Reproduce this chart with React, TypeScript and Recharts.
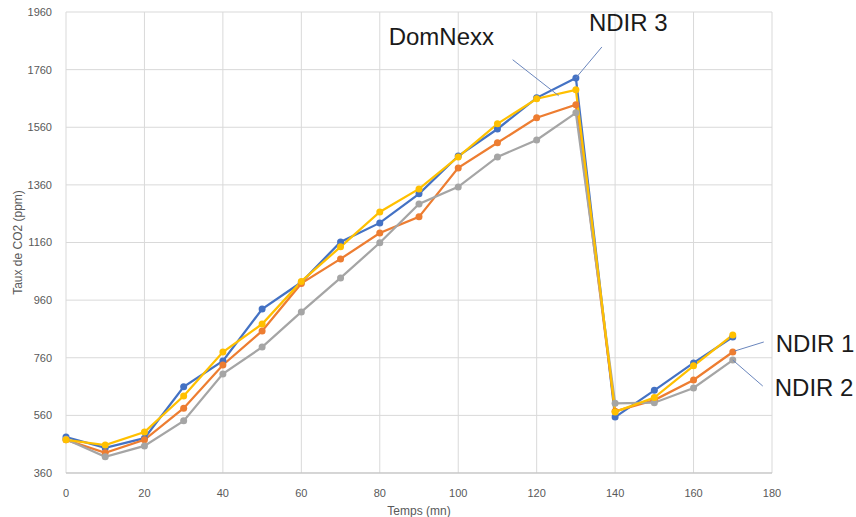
import { LineChart, Line, XAxis, YAxis, CartesianGrid, LabelList } from "recharts"

const minutes = [0, 10, 20, 30, 40, 50, 60, 70, 80, 90, 100, 110, 120, 130, 140, 150, 160, 170]
const ndir3 = [485, 447, 481, 659, 749, 929, 1022, 1162, 1228, 1329, 1460, 1554, 1662, 1731, 554, 647, 742, 832]
const ndir1 = [475, 430, 475, 585, 735, 853, 1018, 1103, 1193, 1249, 1419, 1506, 1593, 1638, 574, 613, 683, 780]
const ndir2 = [477, 416, 454, 541, 704, 797, 919, 1037, 1159, 1294, 1353, 1457, 1516, 1610, 602, 604, 655, 752]
const domNexx = [475, 457, 502, 627, 780, 877, 1025, 1145, 1266, 1346, 1457, 1572, 1659, 1690, 572, 622, 732, 839]

const xTicks = [0, 20, 40, 60, 80, 100, 120, 140, 160, 180]
const yTicks = [360, 560, 760, 960, 1160, 1360, 1560, 1760, 1960]

const data = minutes.map((t, i) => ({
  t,
  ndir3: ndir3[i],
  ndir1: ndir1[i],
  ndir2: ndir2[i],
  domNexx: domNexx[i],
}))

const leader = "#6a86bd"
const font = "'Liberation Sans', Arial, sans-serif"

// callout text + thin leader line anchored on one point of a series
function callout(index: number, text: string, x1: number, y1: number, x2: number, y2: number, tx: number, ty: number) {
  return (props: any) => {
    if (props.index !== index) return null
    const { x, y } = props
    return (
      <g>
        <line x1={x + x1} y1={y + y1} x2={x + x2} y2={y + y2} stroke={leader} strokeWidth={1} />
        <text x={x + tx} y={y + ty} fontSize={24} fontFamily={font} fill="#1a1a1a">{text}</text>
      </g>
    )
  }
}

export default function App() {
  return (
    <div style={{ position: "absolute", left: 0, top: 0, width: 856, height: 517, background: "#fff" }}>
      <LineChart width={856} height={517} data={data} margin={{ top: 12, right: 84, bottom: 0, left: 20 }}>
        <CartesianGrid stroke="#d9d9d9" strokeWidth={1} />
        <XAxis
          dataKey="t"
          type="number"
          domain={[0, 180]}
          ticks={xTicks}
          interval={0}
          height={44}
          tickLine={false}
          axisLine={{ stroke: "#bfbfbf" }}
          tick={{ fontSize: 11, fill: "#595959", fontFamily: font }}
          tickMargin={10}
          label={{ value: "Temps (mn)", position: "insideBottom", offset: 2, fontSize: 12, fill: "#595959", fontFamily: font }}
        />
        <YAxis
          type="number"
          domain={[360, 1960]}
          ticks={yTicks}
          interval={0}
          width={46}
          tickLine={false}
          axisLine={false}
          tick={{ fontSize: 11, fill: "#595959", fontFamily: font }}
          tickMargin={8}
          label={{ value: "Taux de CO2 (ppm)", angle: -90, position: "insideLeft", offset: -2, fontSize: 12, fill: "#595959", fontFamily: font, style: { textAnchor: "middle" } }}
        />
        <Line dataKey="ndir3" stroke="#4472C4" strokeWidth={2.25} dot={{ r: 3.5, fill: "#4472C4", strokeWidth: 0 }} isAnimationActive={false}>
          <LabelList dataKey="ndir3" content={callout(13, "NDIR 3", 0, 0, 26, -31, 13, -47)} />
        </Line>
        <Line dataKey="ndir1" stroke="#ED7D31" strokeWidth={2.25} dot={{ r: 3.5, fill: "#ED7D31", strokeWidth: 0 }} isAnimationActive={false}>
          <LabelList dataKey="ndir1" content={callout(17, "NDIR 1", 2, -1, 31, -10, 43, 0)} />
        </Line>
        <Line dataKey="ndir2" stroke="#A5A5A5" strokeWidth={2.25} dot={{ r: 3.5, fill: "#A5A5A5", strokeWidth: 0 }} isAnimationActive={false}>
          <LabelList dataKey="ndir2" content={callout(17, "NDIR 2", 0, 0, 30, 26, 42, 36)} />
        </Line>
        <Line dataKey="domNexx" stroke="#FFC000" strokeWidth={2.25} dot={{ r: 3.5, fill: "#FFC000", strokeWidth: 0 }} isAnimationActive={false}>
          <LabelList dataKey="domNexx" content={callout(12, "DomNexx", 22, -3, -24, -39, -148, -54)} />
        </Line>
      </LineChart>
    </div>
  )
}
